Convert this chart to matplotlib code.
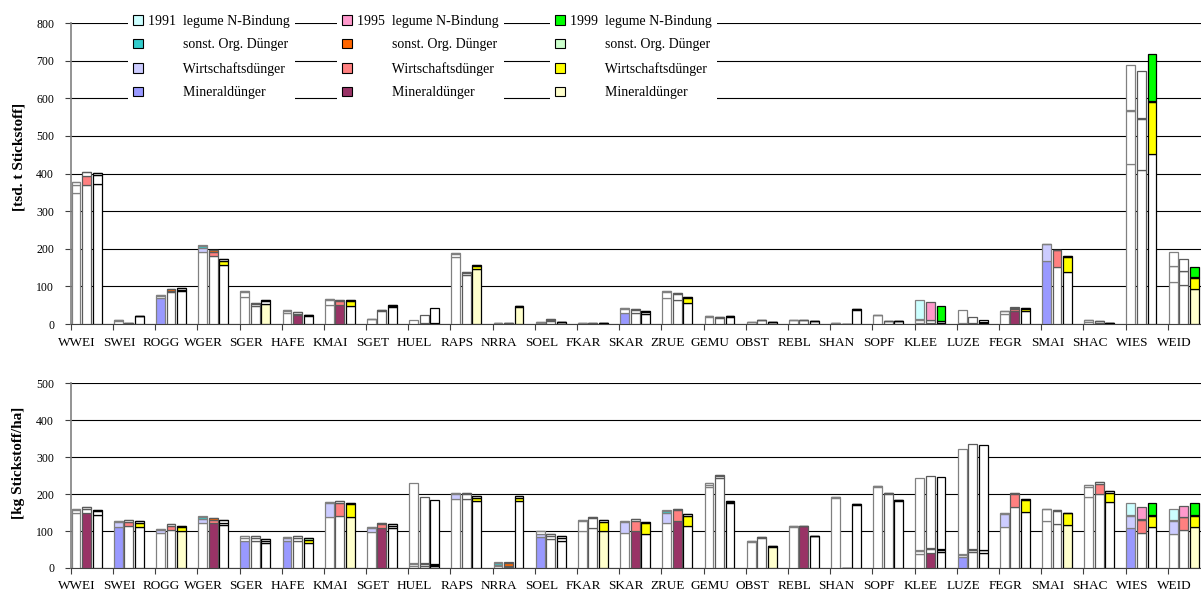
import numpy as np
import matplotlib
matplotlib.use("Agg")
import matplotlib.pyplot as plt
from matplotlib.patches import Patch

plt.rcParams['font.family'] = ['Liberation Serif', 'DejaVu Serif']

crops = ["WWEI", "SWEI", "ROGG", "WGER", "SGER", "HAFE", "KMAI", "SGET", "HUEL",
         "RAPS", "NRRA", "SOEL", "FKAR", "SKAR", "ZRUE", "GEMU", "OBST", "REBL",
         "SHAN", "SOPF", "KLEE", "LUZE", "FEGR", "SMAI", "SHAC", "WIES", "WEID"]
years = ["1991", "1995", "1999"]

# upper panel, tsd. t N ; one row per crop = (1991, 1995, 1999)
top_min = [[348, 370, 372], [7, 2, 20], [68, 84, 87], [191, 181, 157], [73, 48, 53],
           [28, 23, 21], [51, 50, 49], [13, 34, 44], [1, 3, 3], [177, 129, 145],
           [2, 2, 46], [4, 9, 5], [2, 2, 2], [30, 30, 27], [69, 65, 57],
           [19, 17, 19], [5, 10, 5], [10, 10, 7], [2, 0, 38], [24, 8, 8],
           [3, 2, 2], [2, 2, 2], [26, 35, 35], [167, 152, 139], [6, 4, 2],
           [425, 410, 452], [111, 105, 94]]
top_wirt = [[22, 24, 24], [3, 1, 1], [7, 5, 4], [12, 10, 11], [11, 4, 8],
            [6, 4, 3], [14, 11, 11], [1, 2, 4], [0, 0, 0], [8, 6, 8],
            [1, 1, 2], [1, 1, 0.5], [0.5, 0.5, 0.5], [10, 7, 5], [16, 14, 13],
            [2, 2, 2], [1, 1.5, 1], [1, 1, 1], [0.5, 0, 1], [1, 1, 1],
            [9, 8, 6], [1, 1, 3], [8, 6, 5], [45, 44, 40], [5, 3, 1.5],
            [140, 135, 137], [43, 36, 28]]
top_sonst = [[8, 10, 6], [1, 0.5, 0], [2, 5, 5], [5, 6, 4], [3, 5, 4],
             [4, 4, 1], [1, 3, 4], [0, 1, 2], [0, 0, 0], [3, 4, 4],
             [0.5, 0.5, 1], [1, 3, 0.5], [0.3, 0.3, 0.3], [2, 2, 3], [3, 3, 2],
             [1, 0.5, 1], [0, 0, 0], [0, 0, 0], [0, 0, 0], [0, 0, 0],
             [1, 1, 1], [0, 0, 0], [1, 2, 2], [0, 0, 1], [0, 0, 0],
             [3, 2, 3], [1, 1, 2]]
top_leg = [[0, 0, 0], [0, 0, 0], [0, 0, 0], [2, 1, 2], [0, 0, 0],
           [0, 0, 0], [0, 0, 0], [0, 0, 0], [10, 22, 40], [0, 0, 1],
           [0, 0, 0], [0, 0, 0], [0, 0, 0], [0, 0, 0], [0, 0, 0],
           [0, 0, 0], [0, 0, 0], [0, 0, 0], [0, 0, 0], [0, 0, 0],
           [52, 48, 40], [33, 15, 6], [0, 1, 0], [0, 0, 0], [0, 0, 0],
           [120, 126, 126], [37, 31, 28]]

# lower panel, kg N/ha
bot_min = [[148, 150, 144], [110, 113, 112], [94, 104, 101], [123, 121, 116], [73, 72, 67],
           [72, 72, 67], [139, 140, 139], [97, 108, 107], [6, 6, 5], [188, 188, 181],
           [4, 3, 181], [85, 79, 73], [101, 107, 100], [96, 100, 92], [122, 127, 114],
           [220, 243, 175], [70, 81, 56], [112, 113, 86], [190, 0, 170], [220, 201, 182],
           [37, 41, 42], [29, 42, 40], [110, 166, 152], [126, 120, 116], [193, 201, 179],
           [108, 95, 110], [91, 103, 110]]
bot_wirt = [[8, 10, 10], [14, 12, 9], [9, 10, 10], [9, 10, 7], [9, 9, 7],
            [8, 9, 8], [37, 37, 33], [11, 10, 7], [4, 4, 3], [12, 11, 9],
            [3, 3, 9], [7, 8, 9], [25, 28, 25], [29, 28, 29], [27, 30, 26],
            [6, 5, 4], [3, 3, 3], [2, 1, 1], [2, 0, 2], [2, 2, 2],
            [10, 10, 8], [6, 8, 8], [36, 34, 31], [33, 34, 32], [26, 27, 24],
            [34, 36, 32], [36, 34, 32]]
bot_sonst = [[4, 5, 4], [3, 4, 5], [3, 4, 4], [7, 5, 6], [4, 5, 5],
             [4, 5, 5], [3, 4, 3], [4, 4, 4], [4, 4, 2], [3, 4, 5],
             [6, 7, 5], [8, 5, 4], [4, 4, 5], [3, 5, 4], [5, 4, 5],
             [3, 3, 2], [0, 0, 0], [0, 0, 0], [0, 0, 0], [0, 0, 0],
             [2, 2, 1], [2, 2, 1], [2, 3, 3], [2, 2, 2], [6, 5, 5],
             [1, 1, 2], [2, 2, 2]]
bot_leg = [[0, 0, 0], [0, 0, 0], [0, 0, 0], [1, 0, 0], [0, 0, 0],
           [0, 0, 2], [0, 0, 0], [0, 1, 0], [217, 178, 174], [0, 0, 0],
           [2, 2, 0], [0, 0, 0], [0, 0, 0], [0, 0, 0], [2, 0, 0],
           [0, 0, 0], [0, 0, 0], [0, 0, 0], [0, 0, 0], [0, 0, 0],
           [195, 197, 196], [285, 284, 283], [0, 0, 0], [0, 0, 0], [0, 0, 0],
           [32, 32, 31], [30, 30, 31]]

# which segments are filled with colour (M, W, S, L), the rest stays white
top_hl = [["", "W", ""], ["", "", ""], ["M", "S", "W"], ["WS", "WS", "W"], ["", "", "M"],
          ["", "M", ""], ["", "MW", "W"], ["", "", ""], ["", "", ""], ["", "", "MW"],
          ["", "", "M"], ["", "S", ""], ["", "", ""], ["M", "", ""], ["", "", "W"],
          ["", "", ""], ["", "", ""], ["", "", ""], ["", "", ""], ["", "", ""],
          ["L", "L", "L"], ["", "", ""], ["", "MW", "W"], ["MW", "W", "W"], ["", "", ""],
          ["", "", "WL"], ["", "", "MWL"]]
bot_hl = [["", "M", ""], ["MW", "W", "W"], ["W", "W", "MW"], ["WS", "MWS", ""], ["M", "", ""],
          ["MW", "", "WS"], ["W", "W", "MW"], ["W", "MWS", ""], ["", "", ""], ["W", "", "W"],
          ["S", "S", "W"], ["MW", "", ""], ["", "", "MW"], ["W", "MW", "W"], ["WS", "MW", "W"],
          ["", "", ""], ["", "", "M"], ["", "M", ""], ["", "", ""], ["", "", ""],
          ["", "M", ""], ["M", "", ""], ["W", "W", "W"], ["", "", "MW"], ["", "W", "W"],
          ["MWL", "WL", "WL"], ["WL", "WL", "MWL"]]

pal = [{'M': '#9999FF', 'W': '#CCCCFF', 'S': '#33CCCC', 'L': '#CCFFFF'},
       {'M': '#993366', 'W': '#FF8080', 'S': '#FF6600', 'L': '#FF99CC'},
       {'M': '#FFFFCC', 'W': '#FFFF00', 'S': '#CCFFCC', 'L': '#00FF00'}]
edges = ['#808080', '#5a5a5a', '#000000']
names = {'L': 'legume N-Bindung', 'S': 'sonst. Org. Dünger',
         'W': 'Wirtschaftsdünger', 'M': 'Mineraldünger'}

fig = plt.figure(figsize=(12.01, 5.93), dpi=100)
ax1 = fig.add_axes([0.0589, 0.4536, 0.9486, 0.5076])
ax2 = fig.add_axes([0.0589, 0.0422, 0.9486, 0.3114])


def draw(ax, parts, hl, ymax, ylabel, ly):
    x = np.arange(len(crops))
    for j in range(3):
        bottom = np.zeros(len(crops))
        for k, key in enumerate('MWSL'):
            vals = np.array([row[j] for row in parts[k]], dtype=float)
            cols = [pal[j][key] if key in hl[i][j] else 'white' for i in range(len(crops))]
            ax.bar(x + 0.125 + 0.25 * j, vals, 0.21, bottom=bottom, color=cols,
                   edgecolor=edges[j], linewidth=0.9, zorder=3)
            bottom += vals
    ax.set_xlim(0, len(crops))
    ax.set_ylim(0, ymax)
    ax.set_yticks(np.arange(0, ymax + 1, 100))
    ax.grid(axis='y', color='black', linewidth=0.8)
    ax.set_axisbelow(True)
    for s in ['top', 'right']:
        ax.spines[s].set_visible(False)
    ax.spines['left'].set_color('#808080')
    ax.spines['left'].set_linewidth(1.2)
    ax.spines['bottom'].set_color('#404040')
    ax.set_xticks(np.arange(len(crops) + 1))
    ax.set_xticklabels([])
    ax.set_xticks(x + 0.15, minor=True)
    ax.set_xticklabels(crops, minor=True, fontsize=9.5)
    ax.tick_params(axis='x', which='major', length=4, color='#404040')
    ax.tick_params(axis='x', which='minor', length=0, pad=9)
    ax.tick_params(axis='y', length=4, color='#404040', labelsize=8.5, pad=8)
    ax.set_ylabel(ylabel, fontsize=11, fontweight='bold')
    ax.yaxis.set_label_coords(-0.040, ly)


draw(ax1, [top_min, top_wirt, top_sonst, top_leg], top_hl, 800, '[tsd. t Stickstoff]', 0.556)
draw(ax2, [bot_min, bot_wirt, bot_sonst, bot_leg], bot_hl, 500, '[kg Stickstoff/ha]', 0.571)

# three legend columns, one per year
leg_x = [0.1066, 0.2806, 0.458]
for j in range(3):
    handles = [Patch(facecolor=pal[j][k], edgecolor='black', linewidth=0.8) for k in 'LSWM']
    labels = [years[j] + '  ' + names['L']] + [' ' * 10 + names[k] for k in 'SWM']
    leg = ax1.legend(handles, labels, loc='upper left', bbox_to_anchor=(leg_x[j], 0.983),
                     bbox_transform=fig.transFigure, frameon=True, fancybox=False,
                     edgecolor='none', facecolor='white', framealpha=1, fontsize=10,
                     handlelength=0.7, handleheight=0.7, handletextpad=0.4,
                     labelspacing=0.76, borderpad=0.35, borderaxespad=0)
    ax1.add_artist(leg)

fig.savefig('out.png', dpi=100)
